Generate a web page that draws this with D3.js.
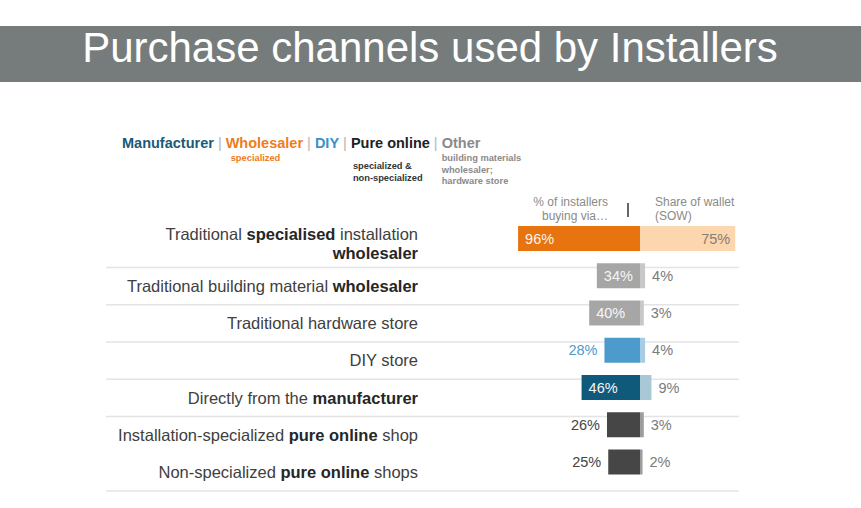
<!DOCTYPE html>
<html>
<head>
<meta charset="utf-8">
<script src="https://cdn.jsdelivr.net/npm/d3@7"></script>
<style>
  html, body { margin: 0; padding: 0; background: #ffffff; }
  svg { display: block; font-family: "Liberation Sans", Arial, Helvetica, sans-serif; }
</style>
</head>
<body>
<svg id="chart" width="861" height="508"></svg>
<script>
// ---------------- DATA ----------------
const titleText = "Purchase channels used by Installers";
const channels = [
  "Traditional **specialised** installation\n**wholesaler**",
  "Traditional building material **wholesaler**",
  "Traditional hardware store",
  "DIY store",
  "Directly from the **manufacturer**",
  "Installation-specialized **pure online** shop",
  "Non-specialized **pure online** shops"
];
const pctInstallers = [96, 34, 40, 28, 46, 26, 25];
const shareOfWallet = [75, 4, 3, 4, 9, 3, 2];
const channelType = ["Wholesaler", "Other", "Other", "DIY", "Manufacturer", "Pure online", "Pure online"];
const separatorAfter = [true, true, true, true, true, false, true];

const legendNames = ["Manufacturer", "Wholesaler", "DIY", "Pure online", "Other"];
const legendSubs = [[], ["specialized"], [], ["specialized &", "non-specialized"], ["building materials", "wholesaler;", "hardware store"]];
const headerLeft = ["% of installers", "buying via\u2026"];
const headerRight = ["Share of wallet", "(SOW)"];

// ---------------- STYLE ----------------
const typeColor = {
  "Manufacturer": "#0f5a7b",
  "Wholesaler": "#e8740f",
  "DIY": "#4c9bcc",
  "Pure online": "#464646",
  "Other": "#a6a6a6"
};
const typeLight = {
  "Manufacturer": "#a9c8d5",
  "Wholesaler": "#fbd6af",
  "DIY": "#a7cce5",
  "Pure online": "#9d9d9d",
  "Other": "#c8c8c8"
};
const legendColor = {
  "Manufacturer": "#1a5a79",
  "Wholesaler": "#ee7c1c",
  "DIY": "#3b90c7",
  "Pure online": "#222222",
  "Other": "#8a8a8a"
};
const subColor = ["#1a5a79", "#ee7c1c", "#3b90c7", "#333333", "#8a8a8a"];
const outsideColor = {"DIY": "#4c9bcc", "Pure online": "#444444", "Other": "#777777", "Manufacturer": "#0f5a7b", "Wholesaler": "#e8740f"};

const svg = d3.select("#chart");

// Title band
svg.append("rect").attr("x", 0).attr("y", 26).attr("width", 861).attr("height", 56).attr("fill", "#767c7c");
svg.append("text").attr("x", 430).attr("y", 62).attr("text-anchor", "middle")
  .attr("fill", "#ffffff").attr("font-size", 42).text(titleText);

// Scales
const centerX = 640;
const x = d3.scaleLinear().domain([0, 100]).range([0, 127]);
const y = d3.scalePoint().domain(d3.range(channels.length)).range([238.5, 462]);
const barH = 25;

// Separator lines
svg.append("g").selectAll("line")
  .data(d3.range(channels.length).filter(i => separatorAfter[i]))
  .join("line")
  .attr("x1", 106).attr("x2", 739)
  .attr("y1", i => y(i) + 29).attr("y2", i => y(i) + 29)
  .attr("stroke", "#e4e4e4").attr("stroke-width", 1.5);

// Row labels
const labelG = svg.append("g");
channels.forEach((lab, i) => {
  const lines = lab.split("\n");
  const n = lines.length;
  lines.forEach((ln, k) => {
    const t = labelG.append("text")
      .attr("x", 418)
      .attr("y", y(i) + 16 - (n - 1) * 14.5 + k * 19)
      .attr("text-anchor", "end")
      .attr("font-size", 16.5)
      .attr("fill", "#404040");
    ln.split("**").forEach((seg, j) => {
      if (!seg) return;
      t.append("tspan").text(seg)
        .attr("font-weight", j % 2 === 1 ? "bold" : "normal")
        .attr("fill", j % 2 === 1 ? "#262626" : "#404040");
    });
  });
});

// Bars
const rows = d3.range(channels.length);
const barsG = svg.append("g");
barsG.selectAll("rect.pct").data(rows).join("rect")
  .attr("class", "pct")
  .attr("x", i => centerX - x(pctInstallers[i]))
  .attr("width", i => x(pctInstallers[i]))
  .attr("y", i => y(i) - barH / 2)
  .attr("height", barH)
  .attr("fill", i => typeColor[channelType[i]]);
barsG.selectAll("rect.sow").data(rows).join("rect")
  .attr("class", "sow")
  .attr("x", centerX)
  .attr("width", i => x(shareOfWallet[i]))
  .attr("y", i => y(i) - barH / 2)
  .attr("height", barH)
  .attr("fill", i => typeLight[channelType[i]]);

// Value labels (left)
barsG.selectAll("text.pct").data(rows).join("text")
  .attr("class", "pct")
  .attr("font-size", 14.5)
  .attr("y", i => y(i) + 5)
  .attr("x", i => pctInstallers[i] >= 30 ? centerX - x(pctInstallers[i]) + 7 : centerX - x(pctInstallers[i]) - 7)
  .attr("text-anchor", i => pctInstallers[i] >= 30 ? "start" : "end")
  .attr("fill", i => pctInstallers[i] >= 30 ? "#f6f6f6" : outsideColor[channelType[i]])
  .text(i => pctInstallers[i] + "%");

// Value labels (right)
barsG.selectAll("text.sow").data(rows).join("text")
  .attr("class", "sow")
  .attr("font-size", 14.5)
  .attr("y", i => y(i) + 5)
  .attr("x", i => shareOfWallet[i] >= 20 ? centerX + x(shareOfWallet[i]) - 5 : centerX + x(shareOfWallet[i]) + 7)
  .attr("text-anchor", i => shareOfWallet[i] >= 20 ? "end" : "start")
  .attr("fill", i => shareOfWallet[i] >= 20 ? "#8a7d70" : "#7a7a7a")
  .text(i => shareOfWallet[i] + "%");

// Column headers
const hdr = svg.append("g").attr("font-size", 12).attr("fill", "#8a8a8a");
headerLeft.forEach((t, k) => hdr.append("text").attr("x", centerX - 32).attr("y", 206 + k * 14)
  .attr("text-anchor", "end").text(t));
headerRight.forEach((t, k) => hdr.append("text").attr("x", centerX + 15).attr("y", 206 + k * 14)
  .attr("text-anchor", "start").text(t));
svg.append("line").attr("x1", centerX - 12).attr("x2", centerX - 12).attr("y1", 203).attr("y2", 217)
  .attr("stroke", "#666").attr("stroke-width", 2);

// Legend
const lg = svg.append("g");
let cx = 122;
legendNames.forEach((name, k) => {
  if (k > 0) {
    const sp = lg.append("text").attr("x", cx).attr("y", 148).attr("font-size", 14.5)
      .attr("fill", "#b5b5b5").attr("xml:space", "preserve").text(" | ");
    cx += sp.node().getComputedTextLength();
  }
  const t = lg.append("text").attr("x", cx).attr("y", 148).attr("font-size", 14.5)
    .attr("font-weight", "bold").attr("fill", legendColor[name]).text(name);
  const startX = cx;
  cx += t.node().getComputedTextLength();
  legendSubs[k].forEach((s, j) => {
    lg.append("text")
      .attr("x", startX + (name === "Wholesaler" ? 5 : (name === "Pure online" ? 2 : 0)))
      .attr("y", (name === "Pure online" ? 169 : 161) + j * 11.5)
      .attr("font-size", 9.3).attr("font-weight", "bold")
      .attr("fill", subColor[k]).text(s);
  });
});
</script>
</body>
</html>
